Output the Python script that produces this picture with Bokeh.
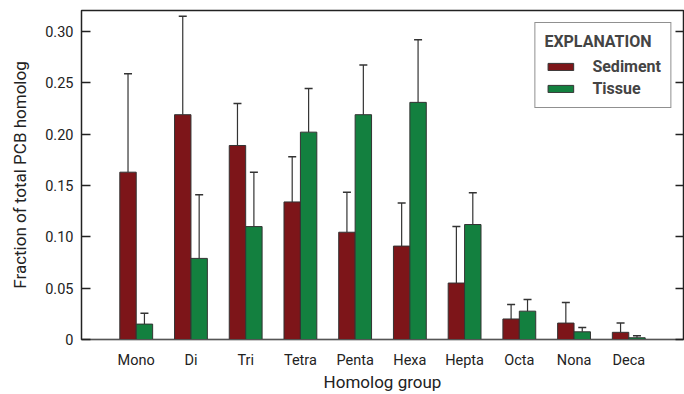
from bokeh.plotting import figure
from bokeh.models import (ColumnDataSource, Whisker, TeeHead, LinearAxis, Range1d,
                          Legend, LegendItem, NumeralTickFormatter, FixedTicker)
from bokeh.transform import dodge
from bokeh.embed import file_html
from bokeh.resources import INLINE

groups = ["Mono", "Di", "Tri", "Tetra", "Penta", "Hexa", "Hepta", "Octa", "Nona", "Deca"]
sediment = [0.163, 0.219, 0.189, 0.134, 0.1045, 0.091, 0.055, 0.020, 0.016, 0.007]
sediment_err_top = [0.259, 0.315, 0.230, 0.178, 0.1435, 0.133, 0.110, 0.034, 0.036, 0.016]
tissue = [0.015, 0.079, 0.110, 0.202, 0.219, 0.231, 0.112, 0.0276, 0.0075, 0.0017]
tissue_err_top = [0.0256, 0.141, 0.163, 0.2445, 0.2675, 0.292, 0.143, 0.039, 0.0117, 0.0036]
y_ticks = [0, 0.05, 0.10, 0.15, 0.20, 0.25, 0.30]

SED = "#7d1519"
TIS = "#13803f"
FONT = "Roboto"

xs = list(range(1, len(groups) + 1))
src = ColumnDataSource(dict(x=xs, sed=sediment, sed_hi=sediment_err_top,
                            tis=tissue, tis_hi=tissue_err_top))

p = figure(width=684, height=394, output_backend="svg", toolbar_location=None,
           x_range=Range1d(0, 11), y_range=Range1d(0, 0.3205),
           min_border_left=81, min_border_right=1, min_border_top=10, min_border_bottom=50)
p.xgrid.visible = False
p.ygrid.visible = False
p.outline_line_color = "#222222"
p.outline_line_width = 1.5

r_sed = p.vbar(x=dodge("x", -0.15), top="sed", width=0.3, source=src,
               fill_color=SED, line_color="#333333", line_width=1)
r_tis = p.vbar(x=dodge("x", 0.15), top="tis", width=0.3, source=src,
               fill_color=TIS, line_color="#333333", line_width=1)

for col, hi, off in (("sed", "sed_hi", -0.15), ("tis", "tis_hi", 0.15)):
    w = Whisker(base=dodge("x", off), lower=col, upper=hi, source=src,
                line_color="#333333", line_width=1.2,
                upper_head=TeeHead(size=8, line_color="#333333", line_width=1.5),
                lower_head=None)
    p.add_layout(w)

# axes
p.xaxis.ticker = FixedTicker(ticks=xs)
p.xaxis.major_label_overrides = {x: g for x, g in zip(xs, groups)}
p.xaxis.major_tick_line_color = None
p.xaxis.minor_tick_line_color = None
p.xaxis.axis_line_color = "#555555"
p.xaxis.axis_label = "Homolog group"
p.xaxis.axis_label_text_font = FONT
p.xaxis.axis_label_text_font_size = "17px"
p.xaxis.axis_label_text_font_style = "normal"
p.xaxis.axis_label_text_color = "#222222"
p.xaxis.axis_label_standoff = 0
p.xaxis.major_label_text_font = FONT
p.xaxis.major_label_text_font_size = "14.5px"
p.xaxis.major_label_text_color = "#222222"
p.xaxis.major_label_standoff = 6

p.yaxis.ticker = FixedTicker(ticks=y_ticks)
p.yaxis.formatter = NumeralTickFormatter(format="0.00")
p.yaxis.major_label_overrides = {0: "0"}
p.yaxis.major_tick_in = 9
p.yaxis.major_tick_out = 0
p.yaxis.major_tick_line_width = 1.5
p.yaxis.major_tick_line_color = "#222222"
p.yaxis.minor_tick_line_color = None
p.yaxis.axis_line_color = None
p.yaxis.axis_label = "Fraction of total PCB homolog"
p.yaxis.axis_label_text_font = FONT
p.yaxis.axis_label_text_font_size = "17px"
p.yaxis.axis_label_text_font_style = "normal"
p.yaxis.axis_label_text_color = "#222222"
p.yaxis.axis_label_standoff = 12
p.yaxis.major_label_text_font = FONT
p.yaxis.major_label_text_font_size = "14.5px"
p.yaxis.major_label_text_color = "#222222"
p.yaxis.major_label_standoff = 8

ry = LinearAxis(ticker=FixedTicker(ticks=y_ticks),
                major_label_overrides={t: "" for t in y_ticks},
                major_tick_in=8, major_tick_out=0, major_tick_line_width=1.5,
                major_tick_line_color="#222222", minor_tick_line_color=None,
                axis_line_color=None, major_label_standoff=0)
p.add_layout(ry, "right")

legend = Legend(items=[LegendItem(label="Sediment", renderers=[r_sed]),
                       LegendItem(label="Tissue", renderers=[r_tis])],
                location="top_right", title="EXPLANATION")
legend.title_text_font = FONT
legend.title_text_font_style = "bold"
legend.title_text_font_size = "16px"
legend.label_text_font = FONT
legend.label_text_font_style = "bold"
legend.label_text_font_size = "16px"
legend.border_line_color = "#222222"
legend.border_line_width = 1.2
legend.glyph_width = 32
legend.glyph_height = 9
legend.label_height = 16
legend.spacing = 3
legend.padding = 9
legend.margin = 12
legend.label_standoff = 16
legend.title_standoff = 6
p.add_layout(legend)

open("out.html", "w").write(file_html(p, INLINE))
